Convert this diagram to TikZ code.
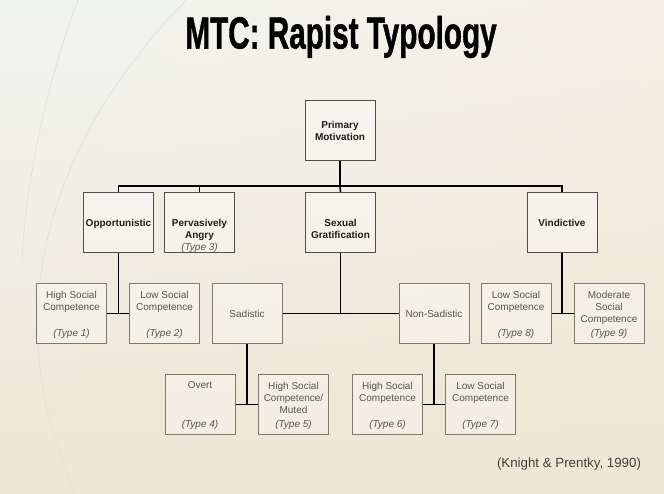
\documentclass[tikz,border=0pt]{standalone}
\usepackage{fontspec}
\setmainfont{Liberation Sans}
\newfontfamily\titlefont{Liberation Sans}[BoldFeatures={FakeBold=1.2}]
\usepackage{graphicx}
\usetikzlibrary{positioning,shadings}
\definecolor{catline}{HTML}{4E4E4E}
\definecolor{boxline}{HTML}{7F786D}
\definecolor{lowtext}{HTML}{555555}
\definecolor{toptext}{HTML}{1E1E1E}
\definecolor{bgsand}{HTML}{EEE6D4}
\definecolor{bgsky}{HTML}{C6DDE5}
\definecolor{bgtop}{HTML}{F1F3F1}
% text inside the boxes
\newcommand{\cattext}[1]{\parbox[c][46pt][t]{66pt}{\centering\vspace*{20pt}#1}}
\newcommand{\typetext}[2]{\parbox[c][48pt][s]{66pt}{\centering\vspace*{2.5pt}#1\par\vfill\textit{#2}}}

\begin{document}
\begin{tikzpicture}[x=1pt,y=-1pt,thick,
  main node/.style={rectangle,draw=catline,line width=0.9pt,fill=white,fill opacity=0.35,text opacity=1,
    minimum width=70pt,minimum height=60pt,inner sep=0pt,align=center,font=\bfseries,text=toptext},
  type node/.style={rectangle,draw=boxline,line width=1pt,fill=white,fill opacity=0.3,text opacity=1,
    minimum width=70pt,minimum height=60pt,inner sep=0pt,align=center,text=lowtext},
  link/.style={draw=black,line width=1.6pt}]

%DRAWING Background

 \useasboundingbox (0,0) rectangle (664,494);
 \shade[upper left=bgtop,upper right=bgsand!60!white,lower left=bgsand,lower right=bgsand] (0,0) rectangle (664,494);
 \shade[top color=bgtop,middle color=bgsky,bottom color=bgsand] (0,0) -- (186,0) .. controls (60,130) and (-10,300) .. (75,494) -- (0,494) -- cycle;
 \draw[white!75!gray,line width=0.6pt] (186,0) .. controls (60,130) and (-10,300) .. (75,494);
 \draw[white!75!gray,line width=0.6pt] (78,0) .. controls (40,100) and (25,200) .. (22,260);

%Title

 \node (Title) at (341,37) {\scalebox{0.66}[1]{\fontsize{45}{45}\selectfont\titlefont\bfseries MTC: Rapist Typology}};

%Inserting the boxes

 \node[main node] (PrimaryMotivation) at (340,130.5) {Primary\\Motivation};

 \node[main node] (Opportunistic) at (118.5,222.5) {\cattext{Opportunistic}};
 \node[main node] (PervasivelyAngry) at (199.5,222.5) {\cattext{Pervasively\\Angry\\\mdseries\color{lowtext}\textit{(Type 3)}}};
 \node[main node] (SexualGratification) at (340.5,222.5) {\cattext{Sexual\\Gratification}};
 \node[main node] (Vindictive) at (562,222.5) {\cattext{Vindictive}};

 \node[type node] (Type1) at (71.5,313.5) {\typetext{High Social\\Competence}{(Type 1)}};
 \node[type node] (Type2) at (164.5,313.5) {\typetext{Low Social\\Competence}{(Type 2)}};
 \node[type node] (Sadistic) at (247,313.5) {Sadistic};
 \node[type node] (NonSadistic) at (434,313.5) {Non-Sadistic};
 \node[type node] (Type8) at (516,313.5) {\typetext{Low Social\\Competence}{(Type 8)}};
 \node[type node] (Type9) at (609,313.5) {\typetext{Moderate\\Social\\Competence}{(Type 9)}};

 \node[type node] (Type4) at (200,404.5) {\typetext{Overt}{(Type 4)}};
 \node[type node] (Type5) at (293.5,404.5) {\typetext{High Social\\Competence/\\Muted}{(Type 5)}};
 \node[type node] (Type6) at (387.5,404.5) {\typetext{High Social\\Competence}{(Type 6)}};
 \node[type node] (Type7) at (480.5,404.5) {\typetext{Low Social\\Competence}{(Type 7)}};

 \node[text=toptext!85!white] (Citation) at (569,464) {\fontsize{13.3}{15}\selectfont(Knight \& Prentky, 1990)};

%DRAWING the links

 \coordinate (Bus) at (340,186);
 \draw[link] (PrimaryMotivation.south) -- (Bus);
 \draw[link] (Opportunistic.north) |- (Bus) -| (Vindictive.north);
 \draw[link] (PervasivelyAngry.north) -- (PervasivelyAngry.north |- Bus);
 \draw[link] (SexualGratification.north) -- (Bus);

 \draw[link] (Opportunistic.south) |- (Type1.east);
 \draw[link] (Opportunistic.south) |- (Type2.west);
 \draw[link] (SexualGratification.south) |- (Sadistic.east);
 \draw[link] (SexualGratification.south) |- (NonSadistic.west);
 \draw[link] (Vindictive.south) |- (Type8.east);
 \draw[link] (Vindictive.south) |- (Type9.west);

 \draw[link] (Sadistic.south) |- (Type4.east);
 \draw[link] (Sadistic.south) |- (Type5.west);
 \draw[link] (NonSadistic.south) |- (Type6.east);
 \draw[link] (NonSadistic.south) |- (Type7.west);

\end{tikzpicture}
\end{document}
